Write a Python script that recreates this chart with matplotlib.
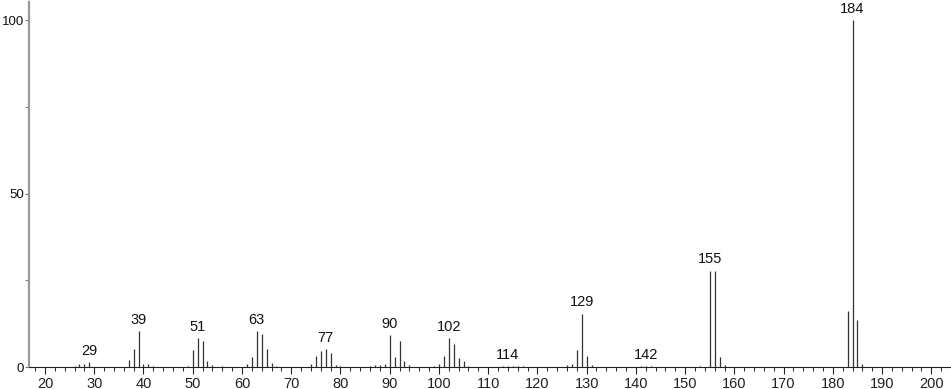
#!/usr/bin/python3

import matplotlib
matplotlib.use('Agg')
import matplotlib.pyplot as plt
from matplotlib.ticker import MultipleLocator

# m/z values and relative intensities
mz = [26, 27, 28, 29, 37, 38, 39, 40, 41, 42,
      49, 50, 51, 52, 53, 54, 56,
      61, 62, 63, 64, 65, 66, 67,
      74, 75, 76, 77, 78, 79, 80,
      86, 87, 88, 89, 90, 91, 92, 93, 94,
      99, 100, 101, 102, 103, 104, 105, 106,
      113, 114, 115, 116, 117,
      126, 127, 128, 129, 130, 131,
      141, 142, 143,
      153, 155, 156, 157, 158,
      183, 184, 185, 186]
intensity = [0.4, 0.8, 0.9, 1.5, 2.0, 5.1, 10.4, 0.8, 1.0, 0.4,
             0.4, 4.9, 8.3, 7.5, 1.7, 0.5, 0.4,
             0.8, 2.9, 10.4, 9.6, 5.1, 1.1, 0.3,
             0.8, 3.2, 4.7, 5.2, 4.0, 0.7, 0.2,
             0.3, 0.5, 0.6, 0.8, 9.2, 2.9, 7.5, 1.7, 0.7,
             0.3, 0.8, 3.2, 8.4, 6.7, 2.7, 1.7, 0.4,
             0.2, 0.3, 0.3, 0.3, 0.2,
             0.5, 0.9, 4.9, 15.4, 3.2, 0.6,
             0.2, 0.3, 0.3,
             0.4, 27.8, 27.8, 3.0, 0.5,
             16.1, 100.0, 13.5, 0.8]
labels = [29, 39, 51, 63, 77, 90, 102, 114, 129, 142, 155, 184]


def main():
	plt.rcParams['font.family'] = ['Liberation Sans', 'DejaVu Sans']

	fig = plt.figure(figsize=(9.51, 3.89), dpi=100)
	ax = fig.add_axes([29 / 951, 22 / 389, 922 / 951, 365 / 389])

	ax.vlines(mz, 0, intensity, colors='#333333', linewidth=0.9)

	for m in labels:
		h = intensity[mz.index(m)]
		ax.text(m, h + 1.2, str(m), ha='center', va='bottom', fontsize=10.5, color='#111111')

	ax.set_xlim(16.75, 204)
	ax.set_ylim(0, 105.2)

	ax.xaxis.set_major_locator(MultipleLocator(10))
	ax.xaxis.set_minor_locator(MultipleLocator(2))
	ax.yaxis.set_major_locator(MultipleLocator(50))
	ax.yaxis.set_minor_locator(MultipleLocator(25))
	ax.set_xticks(range(20, 201, 10))

	for side in ['top', 'right']:
		ax.spines[side].set_visible(False)
	ax.spines['left'].set_color('#999999')
	ax.spines['left'].set_linewidth(1.6)
	ax.spines['bottom'].set_color('#222222')
	ax.spines['bottom'].set_linewidth(0.8)

	ax.tick_params(axis='x', which='major', length=5, width=0.8, colors='#222222', labelsize=10.5, pad=2)
	ax.tick_params(axis='x', which='minor', length=3, width=0.7, colors='#222222')
	ax.tick_params(axis='y', which='major', length=3, width=0.8, colors='#777777', labelcolor='#111111', labelsize=9.5, pad=0.5)
	ax.tick_params(axis='y', which='minor', length=3, width=0.7, colors='#777777')

	fig.savefig('out.png', dpi=100)


if __name__ == '__main__':
	main()
